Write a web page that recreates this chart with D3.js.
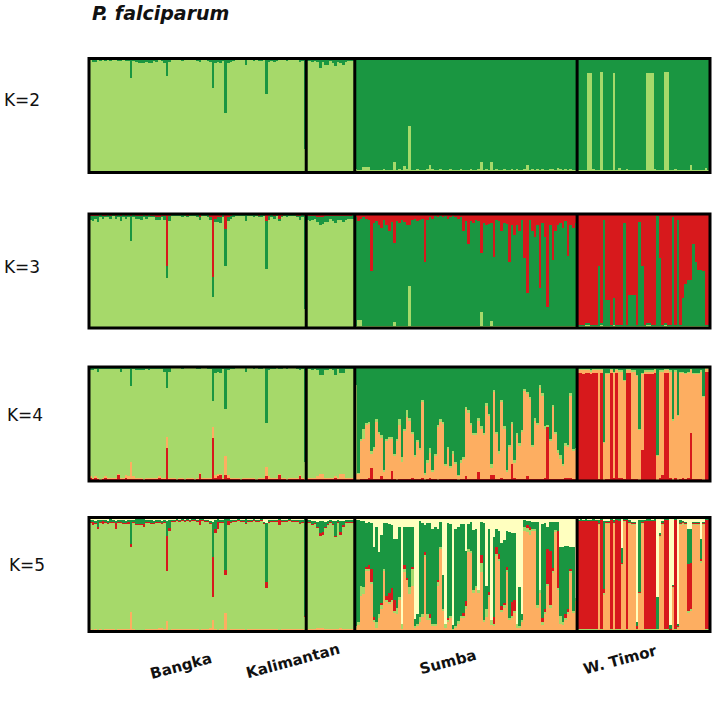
<!DOCTYPE html>
<html><head><meta charset="utf-8">
<script src="https://cdn.jsdelivr.net/npm/d3@7"></script>
<style>body{margin:0;background:#fff}svg{display:block}</style>
</head><body>
<script>
// ---------------- DATA ----------------
const populations = ["Bangka", "Kalimantan", "Sumba", "W. Timor"];
const kLabels = ["K=2", "K=3", "K=4", "K=5"];
const title = "P. falciparum";
const clusterColors = {lg: "#a6d96a", g: "#1a9641", r: "#d7191c", o: "#fdae61", c: "#ffffbf"};

// K=2: dark green share per individual (light green = rest)
const k2_bangka = [.01,.03,.03,.01,.02,.01,.02,.01,.02,.01,.01,.02,.02,.01,.02,.02,.17,.02,.03,.04,.04,.04,.03,.04,.04,.02,.03,.01,.02,.04,.15,.03,.01,.01,.01,.01,.02,.01,.01,.01,.01,.01,.02,.03,.01,.01,.02,.03,.26,.04,.03,.04,.02,.48,.04,.03,.02,.01,.01,.01,.01,.06,.01,.01,.02,.01,.02,.02,.01,.31,.03,.02,.03,.02,.01,.01,.01,.02,.01,.01,.01,.01,.03,.02,.79];
const k2_kalimantan = [.02,.02,.03,.02,.03,.08,.03,.06,.06,.02,.04,.07,.03,.04,.06,.03,.02,.02,.02];
const k2_sumba = [.97,.98,.98,.95,.95,.95,.98,.98,.98,.98,.98,.97,.98,.98,.98,.91,.98,.97,.98,.94,.97,.59,.98,.98,.97,.98,.98,.98,.97,.93,.97,.98,.98,.97,.98,.98,.98,.97,.98,.98,.98,.97,.98,.98,.98,.97,.98,.98,.97,.91,.98,.97,.98,.91,.98,.97,.98,.98,.97,.98,.98,.97,.98,.97,.98,.98,.97,.93,.98,.97,.98,.97,.98,.97,.98,.98,.97,.97,.98,.96,.97,.98,.97,.98,.97,.98,.98];
const k2_timor = [.98,.98,.98,.98,.13,.13,.97,.98,.98,.12,.98,.98,.98,.98,.13,.98,.96,.98,.98,.97,.98,.98,.98,.98,.98,.98,.98,.13,.13,.13,.97,.98,.98,.98,.12,.12,.98,.98,.97,.98,.98,.98,.98,.98,.93,.98,.98,.98,.98,.98,.96,.98];

// K=3: [dark green, red] (light green = rest)
const k3_bangka = [[.03,.02],[.04,.02],[.02,.02],[.05,.02],[.02,.01],[.02,.02],[.01,.02],[.02,.01],[.02,.02],[.01,.01],[.02,.02],[.02,.01],[.04,.02],[.02,.01],[.02,.02],[.02,.01],[.22,.02],[.02,.01],[.02,.02],[.02,.02],[.03,.02],[.02,.01],[.02,.02],[.02,.01],[.01,.02],[.01,.02],[.02,.03],[.02,.03],[.01,.02],[.03,.02],[.10,.46],[.04,.02],[.01,.01],[.01,.01],[.01,.01],[.01,.01],[.02,.01],[.01,.01],[.01,.02],[.01,.01],[.01,.01],[.01,.01],[.02,.01],[.02,.03],[.01,.01],[.01,.01],[.02,.01],[.02,.03],[.18,.55],[.03,.04],[.04,.03],[.05,.03],[.02,.01],[.33,.13],[.03,.03],[.02,.02],[.02,.01],[.01,.01],[.01,.01],[.01,.01],[.01,.01],[.05,.01],[.01,.01],[.01,.01],[.02,.01],[.01,.01],[.01,.02],[.02,.01],[.01,.01],[.42,.06],[.03,.02],[.02,.01],[.02,.02],[.01,.01],[.02,.04],[.01,.02],[.01,.01],[.02,.01],[.01,.01],[.01,.01],[.01,.01],[.01,.02],[.03,.02],[.02,.01],[.81,.02]];
const k3_kalimantan = [[.03,.02],[.04,.02],[.03,.02],[.02,.02],[.04,.03],[.07,.03],[.06,.03],[.05,.02],[.05,.02],[.02,.02],[.04,.02],[.06,.02],[.03,.02],[.03,.02],[.05,.02],[.03,.02],[.02,.02],[.02,.02],[.03,.01]];
const k3_sumba = [[.95,.03],[.87,.06],[.89,.04],[.95,.03],[.94,.04],[.93,.05],[.48,.50],[.90,.08],[.92,.06],[.88,.10],[.86,.12],[.93,.05],[.88,.10],[.83,.15],[.91,.07],[.70,.25],[.92,.06],[.90,.08],[.93,.05],[.91,.07],[.88,.10],[.53,.10],[.93,.05],[.94,.04],[.92,.06],[.93,.05],[.94,.04],[.56,.42],[.93,.05],[.95,.03],[.94,.04],[.96,.02],[.95,.03],[.96,.02],[.95,.03],[.96,.02],[.94,.04],[.95,.03],[.96,.02],[.95,.03],[.94,.04],[.95,.03],[.83,.15],[.92,.06],[.72,.26],[.92,.06],[.90,.08],[.93,.05],[.92,.06],[.52,.34],[.90,.08],[.88,.10],[.89,.09],[.86,.08],[.60,.38],[.93,.05],[.92,.06],[.83,.15],[.90,.08],[.89,.09],[.56,.42],[.88,.10],[.80,.18],[.88,.10],[.83,.15],[.93,.05],[.59,.39],[.29,.69],[.93,.05],[.83,.15],[.78,.20],[.88,.10],[.33,.65],[.90,.08],[.78,.20],[.16,.82],[.88,.10],[.58,.40],[.83,.15],[.88,.10],[.90,.08],[.86,.12],[.92,.06],[.61,.37],[.88,.10],[.86,.12],[.90,.08]];
const k3_timor = [[.01,.97],[.01,.97],[.01,.97],[.01,.96],[.01,.96],[.01,.97],[.01,.97],[.01,.97],[.52,.46],[.01,.96],[.93,.05],[.23,.75],[.23,.75],[.01,.97],[.23,.74],[.01,.97],[.01,.97],[.01,.97],[.90,.08],[.01,.97],[.27,.71],[.27,.71],[.27,.71],[.01,.97],[.91,.07],[.52,.46],[.01,.97],[.01,.96],[.01,.96],[.01,.97],[.01,.97],[.96,.02],[.59,.39],[.01,.97],[.01,.96],[.01,.97],[.01,.97],[.95,.03],[.01,.97],[.93,.05],[.01,.97],[.24,.74],[.37,.61],[.40,.58],[.40,.58],[.72,.26],[.56,.42],[.49,.49],[.49,.49],[.48,.50],[.01,.97],[.01,.97]];

// K=4: [red, orange, dark green] (light green = rest)
const k4_bangka = [[.03,.01,.03],[.02,.01,.03],[.03,.01,.02],[.02,.01,.04],[.01,.01,.02],[.02,.01,.02],[.03,.01,.02],[.02,.01,.02],[.02,.01,.02],[.02,.01,.02],[.02,.01,.02],[.05,.01,.02],[.02,.01,.04],[.02,.01,.02],[.03,.02,.02],[.02,.02,.02],[.02,.15,.17],[.02,.02,.02],[.02,.01,.03],[.02,.01,.03],[.02,.01,.03],[.01,.01,.03],[.02,.01,.02],[.02,.01,.03],[.02,.01,.02],[.02,.01,.02],[.02,.01,.02],[.03,.01,.02],[.02,.01,.02],[.02,.01,.04],[.29,.10,.18],[.02,.01,.04],[.02,.01,.01],[.02,.01,.01],[.01,.01,.01],[.02,.01,.01],[.02,.01,.02],[.01,.01,.01],[.02,.01,.01],[.02,.01,.01],[.02,.01,.01],[.01,.01,.01],[.02,.01,.02],[.06,.01,.02],[.02,.01,.01],[.02,.01,.01],[.02,.01,.02],[.02,.01,.02],[.38,.09,.30],[.03,.02,.05],[.04,.02,.04],[.05,.01,.05],[.02,.01,.02],[.05,.17,.37],[.03,.02,.03],[.02,.01,.02],[.02,.01,.02],[.02,.01,.01],[.02,.01,.01],[.01,.01,.01],[.02,.01,.01],[.02,.01,.04],[.02,.01,.01],[.02,.01,.01],[.02,.01,.02],[.01,.01,.01],[.02,.01,.02],[.02,.01,.02],[.02,.01,.01],[.04,.08,.49],[.02,.02,.03],[.02,.01,.02],[.02,.01,.02],[.02,.01,.01],[.05,.01,.02],[.02,.01,.02],[.02,.01,.01],[.01,.01,.02],[.02,.01,.01],[.02,.01,.01],[.02,.01,.01],[.02,.01,.02],[.04,.01,.03],[.02,.01,.02],[.01,.01,.83]];
const k4_kalimantan = [[.02,.01,.02],[.02,.01,.02],[.02,.01,.03],[.02,.01,.02],[.02,.02,.03],[.02,.04,.07],[.02,.04,.07],[.02,.01,.03],[.02,.01,.03],[.02,.01,.02],[.02,.01,.03],[.03,.01,.07],[.02,.01,.02],[.02,.04,.05],[.02,.04,.05],[.02,.01,.02],[.02,.01,.02],[.02,.01,.02],[.02,.01,.02]];
const k4_sumba = [[.01,.05,.16],[.01,.05,.93],[.02,.33,.63],[.02,.35,.54],[.02,.47,.49],[.03,.47,.48],[.11,.13,.74],[.02,.26,.70],[.02,.50,.46],[.02,.39,.57],[.04,.34,.60],[.02,.06,.90],[.02,.33,.63],[.02,.35,.61],[.09,.28,.61],[.02,.20,.76],[.01,.34,.63],[.02,.47,.46],[.02,.15,.79],[.02,.42,.54],[.02,.54,.38],[.02,.51,.45],[.03,.38,.57],[.02,.19,.77],[.02,.32,.64],[.02,.25,.71],[.03,.66,.29],[.01,.04,.93],[.02,.14,.82],[.03,.22,.71],[.02,.06,.90],[.02,.20,.76],[.01,.46,.51],[.02,.50,.46],[.02,.48,.48],[.02,.11,.85],[.02,.26,.70],[.02,.09,.87],[.02,.22,.74],[.02,.13,.83],[.01,.03,.95],[.02,.14,.82],[.02,.17,.79],[.04,.59,.35],[.02,.58,.38],[.02,.47,.49],[.02,.38,.58],[.02,.38,.58],[.08,.45,.45],[.02,.44,.52],[.02,.38,.58],[.02,.64,.32],[.02,.55,.41],[.05,.06,.85],[.05,.73,.20],[.02,.39,.57],[.02,.22,.74],[.03,.66,.29],[.02,.44,.52],[.02,.06,.90],[.02,.28,.68],[.15,.35,.48],[.03,.13,.82],[.02,.38,.58],[.02,.29,.67],[.02,.41,.55],[.02,.77,.19],[.04,.72,.22],[.02,.70,.26],[.02,.28,.68],[.02,.51,.45],[.02,.47,.49],[.02,.80,.16],[.02,.73,.23],[.03,.43,.52],[.47,.00,.51],[.02,.33,.63],[.02,.63,.33],[.02,.39,.57],[.02,.23,.73],[.02,.17,.77],[.02,.11,.85],[.03,.28,.67],[.03,.27,.68],[.03,.72,.23],[.02,.24,.72],[.02,.25,.71]];
const k4_timor = [[.95,.02,.02],[.95,.02,.02],[.94,.03,.02],[.95,.02,.02],[.95,.02,.02],[.94,.02,.03],[.95,.02,.02],[.95,.02,.02],[.02,.95,.02],[.95,.02,.02],[.01,.32,.66],[.02,.92,.05],[.02,.92,.05],[.95,.02,.02],[.03,.92,.04],[.95,.02,.02],[.03,.93,.03],[.03,.93,.03],[.02,.86,.11],[.95,.02,.02],[.95,.02,.02],[.02,.94,.03],[.02,.94,.03],[.02,.90,.07],[.01,.44,.54],[.27,.67,.05],[.94,.02,.03],[.94,.02,.03],[.94,.02,.03],[.94,.02,.03],[.95,.02,.02],[.01,.21,.77],[.03,.93,.03],[.05,.91,.03],[.95,.02,.02],[.95,.02,.02],[.03,.93,.03],[.01,.52,.46],[.03,.93,.03],[.01,.56,.42],[.02,.93,.04],[.03,.92,.04],[.02,.92,.05],[.03,.92,.04],[.42,.55,.02],[.02,.92,.05],[.02,.92,.05],[.02,.92,.05],[.02,.94,.03],[.01,.73,.25],[.96,.02,.01],[.96,.02,.01]];

// K=5: [orange, red, dark green, cream] (light green = rest)
const k5_bangka = [[.02,.01,.02,.02],[.01,.03,.02,.02],[.02,.01,.02,.03],[.01,.02,.06,.02],[.02,.01,.02,.02],[.01,.03,.01,.02],[.02,.01,.02,.02],[.02,.01,.02,.03],[.02,.01,.03,.01],[.02,.01,.02,.02],[.01,.05,.02,.03],[.02,.01,.02,.02],[.02,.01,.02,.02],[.02,.01,.03,.02],[.02,.01,.02,.03],[.02,.02,.02,.02],[.17,.03,.21,.02],[.02,.01,.02,.02],[.01,.01,.05,.01],[.01,.01,.05,.01],[.01,.01,.05,.01],[.01,.02,.05,.01],[.02,.01,.02,.02],[.02,.01,.02,.02],[.02,.01,.03,.02],[.02,.01,.02,.03],[.02,.01,.02,.02],[.03,.01,.02,.02],[.03,.01,.02,.03],[.02,.01,.02,.02],[.09,.31,.13,.03],[.01,.03,.07,.02],[.02,.01,.01,.02],[.02,.01,.01,.02],[.02,.01,.01,.01],[.02,.01,.01,.02],[.02,.01,.01,.01],[.02,.01,.01,.02],[.02,.01,.01,.01],[.02,.01,.01,.02],[.02,.01,.01,.01],[.02,.01,.01,.01],[.02,.01,.01,.02],[.01,.05,.01,.01],[.02,.01,.01,.01],[.02,.01,.01,.02],[.02,.01,.01,.02],[.03,.01,.02,.03],[.10,.35,.31,.04],[.02,.04,.08,.02],[.01,.06,.03,.01],[.02,.01,.02,.02],[.02,.01,.02,.02],[.16,.04,.45,.01],[.01,.04,.02,.01],[.02,.01,.02,.02],[.02,.01,.01,.02],[.02,.01,.01,.02],[.02,.01,.01,.01],[.02,.01,.01,.02],[.02,.01,.01,.02],[.01,.01,.04,.01],[.02,.01,.01,.02],[.02,.01,.01,.02],[.02,.01,.01,.01],[.02,.01,.01,.02],[.02,.01,.01,.02],[.02,.01,.01,.01],[.02,.01,.01,.04],[.02,.05,.52,.05],[.02,.01,.02,.02],[.02,.01,.01,.02],[.02,.01,.01,.02],[.02,.01,.01,.02],[.01,.05,.01,.01],[.02,.01,.01,.02],[.02,.01,.01,.02],[.02,.01,.01,.02],[.02,.01,.01,.01],[.02,.01,.01,.02],[.02,.01,.01,.02],[.02,.01,.01,.02],[.02,.01,.03,.02],[.02,.01,.02,.02],[.01,.01,.85,.01]];
const k5_kalimantan = [[.02,.01,.02,.02],[.02,.01,.02,.02],[.02,.01,.03,.03],[.02,.01,.02,.03],[.03,.01,.04,.04],[.03,.02,.11,.03],[.03,.02,.10,.03],[.02,.01,.04,.04],[.02,.01,.03,.03],[.02,.01,.02,.02],[.02,.01,.03,.03],[.02,.01,.13,.03],[.02,.01,.02,.02],[.03,.02,.10,.03],[.02,.01,.04,.03],[.02,.01,.02,.02],[.02,.01,.02,.02],[.02,.01,.02,.02],[.02,.01,.02,.02]];
const k5_sumba = [[.03,0,.93,.02],[.06,0,.90,.02],[.31,0,.57,.03],[.33,0,.58,.03],[.53,.02,.38,.05],[.53,.03,.38,.04],[.42,.12,.40,.05],[.08,.03,.61,.26],[.03,0,.84,.08],[.12,0,.55,.30],[.20,.02,.60,.15],[.53,0,.40,.05],[.26,.03,.64,.05],[.24,.08,.60,.06],[.26,.10,.55,.07],[.16,.10,.53,.19],[.15,0,.60,.19],[.28,0,.62,.08],[.02,0,0,.93],[.52,.03,.34,.08],[.45,.02,.45,.08],[.33,0,.53,.08],[.40,.02,.35,.08],[.03,0,.06,.89],[.05,0,.08,.85],[.08,0,.84,.03],[.13,0,.80,.05],[.65,.03,.23,.07],[.10,0,.80,.05],[.10,.03,.80,.05],[.05,0,.83,.10],[.05,0,.85,.08],[.40,.02,.45,.10],[.72,0,.22,.04],[.18,0,.30,.50],[.03,0,0,.93],[.08,.02,.83,.05],[.12,0,.80,.06],[0,0,.04,.94],[.03,0,.85,.10],[.07,0,.83,.08],[.12,0,.80,.06],[.12,.02,.78,.06],[.20,.05,.44,.29],[.70,0,.22,.06],[.69,0,.25,.04],[.34,0,.53,.11],[.38,0,.50,.10],[.34,0,0,.64],[.52,.07,.29,.04],[.08,0,.85,.05],[.13,0,.20,.60],[.30,.03,.55,.10],[.06,0,0,.90],[.05,.06,.70,.17],[.66,.06,.16,.10],[.62,.04,.20,.12],[.17,.03,.56,.22],[.21,.02,.55,.20],[.52,.03,.31,.12],[.10,0,.75,.13],[.12,.12,.60,.14],[.16,.10,.58,.14],[.03,0,0,.93],[.03,0,.34,.61],[.08,0,.05,.85],[.88,0,.06,.02],[.87,.02,.04,.03],[.85,.03,.05,.03],[.88,0,.06,.04],[.88,0,.06,.04],[.21,0,.73,.04],[.34,0,0,.64],[.06,.04,.82,.06],[.15,.03,.75,.05],[.40,.30,.20,.08],[.21,.48,.25,.04],[.51,.03,.40,.04],[.87,0,.07,.04],[.36,.50,.08,.04],[.07,0,.60,.26],[.06,0,.66,.26],[.10,.03,.60,.25],[.15,.03,.55,.25],[.51,.02,.19,.26],[.16,0,.56,.26],[.27,0,0,.71]];
const k5_timor = [[.01,.95,.01,.02],[.01,.95,.02,.01],[.01,.95,.01,.02],[.01,.95,.02,.01],[.01,.95,.01,.02],[.01,.95,.01,.02],[.01,.95,.02,.01],[.01,.95,.01,.02],[.93,.01,.03,.02],[.01,.96,.01,.01],[.32,.03,.60,.03],[.94,.01,.01,.03],[.94,.01,.01,.03],[.01,.96,.01,.01],[.94,.01,.02,.02],[.01,.96,.01,.01],[.01,.95,.02,.01],[.58,.01,.13,.27],[.96,.01,.01,.01],[.01,.96,.01,.01],[.94,.01,.02,.02],[.93,.01,.01,.04],[.93,.01,.01,.04],[0,.03,.03,.92],[.33,.01,.63,.02],[.94,.01,.02,.02],[.01,.95,.01,.02],[.01,.95,.02,.01],[.01,.95,.02,.01],[.01,.95,.01,.02],[.01,.95,.02,.01],[0,0,.28,.70],[.83,.01,.01,.14],[.93,.01,.02,.03],[.01,.96,.01,.01],[.01,.96,.01,.01],[0,.01,.04,.94],[.38,.01,.01,.59],[.01,.96,.01,.01],[.03,.01,.02,.93],[.93,.01,.03,.02],[.94,.01,.01,.03],[.93,.01,.01,.04],[.16,.41,.31,.10],[.18,.40,.30,.10],[.93,.01,.01,.04],[.93,.01,.01,.04],[.93,.01,.01,.04],[.60,.02,.17,.19],[.93,.01,.01,.04],[.01,.96,.01,.01],[.01,.96,.01,.01]];

// ---------------- CHART ----------------
const kSets = [
  {stored: ["g"], order: ["lg", "g"], pops: [k2_bangka, k2_kalimantan, k2_sumba, k2_timor].map(a => a.map(v => [v]))},
  {stored: ["g", "r"], order: ["lg", "g", "r"], pops: [k3_bangka, k3_kalimantan, k3_sumba, k3_timor]},
  {stored: ["r", "o", "g"], order: ["r", "o", "lg", "g"], pops: [k4_bangka, k4_kalimantan, k4_sumba, k4_timor]},
  {stored: ["o", "r", "g", "c"], order: ["o", "lg", "r", "g", "c"], pops: [k5_bangka, k5_kalimantan, k5_sumba, k5_timor]}
];

const W = 714, H = 719;
const left = 89, right = 710;
const panelTops = [58.5, 214, 367, 517.5], panelH = 114;
const labelPos = [[22, 106], [22, 273], [25, 421], [27, 571]];

const popSizes = kSets[0].pops.map(p => p.length);
const N = d3.sum(popSizes);
const starts = popSizes.map((s, i) => d3.sum(popSizes.slice(0, i)));

const svg = d3.select("body").append("svg").attr("width", W).attr("height", H);
const x = d3.scaleBand().domain(d3.range(N)).range([left, right]).padding(0);

svg.append("text").attr("x", 92).attr("y", 20)
  .attr("font-family", "DejaVu Sans, sans-serif").attr("font-size", 19)
  .attr("font-weight", "bold").attr("font-style", "italic").attr("fill", "#111")
  .text(title);

kSets.forEach((ks, ki) => {
  const top = panelTops[ki];
  const y = d3.scaleLinear().domain([0, 1]).range([top + panelH, top]);
  const rows = [];
  ks.pops.forEach(pop => pop.forEach(vals => {
    const row = {};
    ks.stored.forEach((k, j) => row[k] = vals[j]);
    let s = d3.sum(vals);
    if (s > 1) { ks.stored.forEach(k => row[k] /= s); s = 1; }
    row.lg = Math.max(0, 1 - s);
    rows.push(row);
  }));
  const series = d3.stack().keys(ks.order)(rows);
  const g = svg.append("g");
  g.append("g").attr("shape-rendering", "crispEdges")
    .selectAll("g").data(series).join("g")
    .attr("fill", s => clusterColors[s.key])
    .selectAll("rect").data(s => s).join("rect")
    .attr("x", (d, i) => x(i))
    .attr("width", x.bandwidth())
    .attr("y", d => y(d[1]))
    .attr("height", d => Math.max(0, y(d[0]) - y(d[1])));

  // frame and population separators
  g.append("rect").attr("x", left).attr("y", top).attr("width", right - left).attr("height", panelH)
    .attr("fill", "none").attr("stroke", "#000").attr("stroke-width", 3);
  starts.slice(1).forEach(s => {
    g.append("line").attr("x1", x(s)).attr("x2", x(s)).attr("y1", top).attr("y2", top + panelH)
      .attr("stroke", "#000").attr("stroke-width", 3);
  });

  svg.append("text").attr("x", labelPos[ki][0]).attr("y", labelPos[ki][1])
    .attr("text-anchor", "middle").attr("font-family", "DejaVu Sans, sans-serif")
    .attr("font-size", 17).attr("fill", "#111").text(kLabels[ki]);
});

const popLabelPos = [[181, 666], [293, 661], [448, 662], [620, 660]];
populations.forEach((p, i) => {
  svg.append("text")
    .attr("transform", `translate(${popLabelPos[i][0]},${popLabelPos[i][1]}) rotate(-15)`)
    .attr("text-anchor", "middle").attr("dominant-baseline", "central")
    .attr("font-family", "DejaVu Sans, sans-serif").attr("font-size", 15)
    .attr("font-weight", "bold").attr("fill", "#111").text(p);
});
</script>
</body></html>
